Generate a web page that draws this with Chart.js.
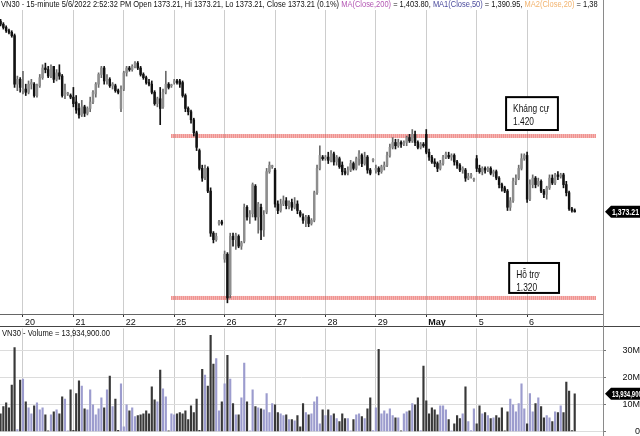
<!DOCTYPE html>
<html>
<head>
<meta charset="utf-8">
<title>VN30 15-minute</title>
<script src="https://cdn.jsdelivr.net/npm/chart.js@4.4.1/dist/chart.umd.min.js"></script>
<style>
  html, body { margin: 0; padding: 0; background: #fff; }
  #wrap { position: relative; width: 640px; height: 436px; overflow: hidden; }
  canvas { position: absolute; left: 0; }
  #price { top: 0; }
  #vol { top: 321px; }
  .line { position: absolute; }
</style>
</head>
<body>
<div id="wrap">
  <canvas id="price" width="640" height="326" style="width:640px;height:326px"></canvas>
  <canvas id="vol" width="640" height="118" style="width:640px;height:118px"></canvas>
  <div class="line" style="left:0;top:326px;width:640px;height:1px;background:#444"></div>
  <div class="line" style="left:603px;top:0;width:1px;height:436px;background:#8a8a8a"></div>
</div>
<script>
// session labels and the bar index where each session starts
const dayLabels = ["20", "21", "22", "25", "26", "27", "28", "29", "May", "5", "6"];
const dayStarts = [8, 26, 44, 62, 80, 98, 116, 134, 152, 170, 188];

// 15-minute bars, one row per session (first row = end of Apr 19)
const opens = [
  1491,1489,1487,1485,1484,1482,1452,1455,
  1448,1449,1447,1452,1452,1445,1451,1456,1462,1461,1457,1463,1455,1459,1457,1445,1446,1445,
  1444,1441,1437,1433,1438,1434,1437,1441,1446,1452,1458,1462,1454,1455,1451,1451,1448,1437,
  1449,1459,1462,1461,1463,1465,1462,1458,1456,1453,1452,1447,1440,1443,1438,1447,1452,1451,
  1453,1454,1454,1453,1445,1437,1435,1430,1422,1411,1400,1395,1400,1386,1360,1356,1366,1367,
  1344,1347,1322,1358,1356,1358,1352,1355,1376,1370,1372,1389,1370,1376,1362,1373,1398,1401,
  1399,1378,1374,1378,1380,1377,1379,1376,1378,1373,1370,1368,1370,1366,1368,1385,1400,1407,
  1406,1407,1405,1409,1404,1406,1402,1398,1397,1399,1403,1400,1406,1408,1403,1407,1399,1405,
  1399,1400,1398,1401,1402,1408,1413,1416,1414,1416,1415,1416,1419,1417,1421,1416,1413,1415,
  1421,1410,1407,1404,1403,1400,1403,1407,1408,1407,1408,1404,1402,1399,1399,1394,1395,1393,
  1406,1400,1398,1400,1399,1400,1397,1398,1394,1390,1388,1386,1376,1380,1392,1394,1400,1406,
  1408,1381,1390,1394,1390,1392,1386,1384,1388,1394,1391,1396,1395,1396,1390,1385,1375,1374
];
const highs = [
  1492,1490,1488,1486,1485,1483,1457,1456,
  1460,1452,1454,1455,1453,1452,1458,1464,1465,1463,1464,1463,1461,1464,1458,1452,1447,1446,
  1450,1445,1440,1442,1439,1438,1444,1448,1453,1459,1463,1463,1458,1456,1453,1452,1449,1451,
  1460,1463,1463,1464,1466,1466,1463,1459,1457,1455,1454,1448,1444,1450,1449,1460,1453,1452,
  1455,1455,1455,1454,1446,1438,1436,1431,1423,1412,1402,1402,1401,1388,1361,1360,1368,1368,
  1349,1348,1360,1360,1360,1359,1355,1378,1377,1374,1391,1390,1379,1378,1374,1400,1404,1402,
  1400,1380,1381,1383,1382,1380,1381,1382,1380,1374,1372,1371,1371,1369,1386,1402,1414,1408,
  1408,1410,1411,1410,1408,1407,1404,1400,1401,1405,1404,1407,1411,1409,1410,1408,1400,1406,
  1402,1401,1402,1404,1410,1415,1419,1418,1418,1417,1417,1420,1421,1424,1423,1417,1416,1416,
  1424,1412,1408,1406,1404,1405,1408,1410,1410,1409,1409,1405,1403,1401,1400,1397,1397,1394,
  1408,1402,1401,1401,1401,1401,1399,1399,1395,1391,1389,1387,1382,1394,1396,1402,1409,1409,
  1410,1393,1396,1395,1394,1393,1387,1389,1396,1396,1397,1398,1397,1397,1392,1386,1376,1375
];
const lows = [
  1488,1486,1484,1483,1481,1450,1448,1447,
  1446,1445,1446,1449,1444,1444,1450,1455,1459,1456,1456,1453,1454,1455,1444,1443,1445,1443,
  1438,1434,1431,1432,1432,1433,1435,1440,1444,1450,1456,1452,1452,1450,1449,1447,1446,1435,
  1448,1457,1460,1460,1462,1461,1457,1455,1452,1451,1446,1439,1438,1427,1437,1446,1449,1450,
  1452,1452,1450,1444,1435,1433,1428,1420,1411,1399,1392,1393,1385,1358,1354,1355,1365,1365,
  1342,1317,1320,1352,1350,1351,1350,1354,1368,1366,1370,1368,1360,1356,1358,1372,1397,1400,
  1376,1372,1373,1377,1375,1375,1374,1375,1372,1370,1366,1364,1364,1365,1367,1384,1399,1405,
  1405,1403,1404,1402,1402,1400,1396,1396,1396,1398,1399,1399,1402,1401,1402,1397,1396,1404,
  1397,1396,1397,1399,1401,1407,1412,1412,1413,1413,1414,1414,1416,1416,1414,1412,1412,1413,
  1409,1405,1403,1401,1398,1399,1402,1406,1406,1405,1402,1400,1398,1397,1392,1393,1394,1392,
  1398,1397,1396,1397,1398,1396,1395,1393,1388,1386,1385,1374,1374,1379,1390,1393,1399,1405,
  1379,1380,1388,1388,1389,1385,1382,1381,1387,1390,1390,1393,1394,1388,1383,1374,1373,1373
];
const closes = [
  1489,1487,1485,1484,1482,1452,1455,1450,
  1449,1447,1452,1453,1445,1451,1456,1462,1461,1457,1463,1455,1459,1457,1445,1448,1446,1444,
  1440,1436,1433,1438,1434,1437,1441,1447,1452,1458,1462,1454,1456,1451,1452,1448,1447,1449,
  1459,1462,1461,1463,1465,1462,1458,1456,1453,1452,1447,1440,1443,1437,1447,1452,1450,1451,
  1454,1453,1452,1445,1437,1435,1430,1422,1413,1400,1394,1400,1386,1360,1356,1358,1367,1366,
  1347,1320,1358,1356,1359,1352,1354,1376,1370,1372,1390,1370,1378,1362,1371,1398,1402,1401,
  1378,1374,1378,1380,1377,1379,1376,1378,1374,1371,1368,1370,1366,1368,1385,1400,1408,1406,
  1407,1405,1409,1404,1407,1401,1398,1397,1399,1403,1400,1406,1409,1403,1407,1399,1397,1405,
  1400,1398,1401,1402,1408,1413,1416,1414,1416,1415,1416,1419,1417,1421,1416,1413,1415,1414,
  1410,1407,1404,1403,1400,1403,1407,1409,1407,1408,1404,1402,1399,1400,1394,1395,1396,1393,
  1400,1398,1400,1399,1400,1397,1398,1394,1390,1388,1386,1376,1380,1392,1394,1400,1406,1408,
  1381,1390,1394,1390,1392,1386,1384,1388,1394,1391,1396,1395,1396,1390,1385,1375,1374,1373.21
];
// volume in millions of shares
const volumes = [
  6.6,9.2,10.6,8.8,17.2,31,0.7,19,
  19.4,11,8.8,6.6,9.5,10.6,8,8.8,6.2,0.3,6.2,7.3,8,6.6,12.8,12,0.3,15.4,
  0.5,14,18.7,16.8,8.4,8,15.4,9.9,6.2,8.4,12.5,8.8,15.4,20.5,9.2,12,0.5,17.6,
  1.8,9.9,7.7,8.8,5.5,5.9,6.2,6.6,7.7,6.6,16.5,11.7,11,22.7,15.8,12.8,0.3,6.6,
  6.2,6.6,7,6.6,7.7,4.4,9.5,7,12,0.5,23,20.9,16.8,35.5,24.9,27,7.7,11,
  17.6,28.2,19.4,10.3,6.2,6.2,12.5,25.3,11,0.3,15.4,9.2,8.8,8.4,8,14,7,10.3,
  9.9,7,6.6,5.9,6.2,4.4,4.4,4,5.9,1.8,10.3,7,6.2,6.6,11,12.8,2.9,8,
  5.9,8,5.9,6.6,4.8,3.7,6.6,4.8,4.8,0.3,4.4,6.2,6.6,5.5,4.8,8.4,12.5,0.4,
  8.8,30.4,6.6,7.7,6.6,8.4,5.9,5.1,5.1,0.3,6.6,7.3,7.7,10.3,9.9,12.5,0.4,24.2,
  11.4,6.6,8.8,8,6.2,9.5,9.5,8,4.4,0.3,2.9,5.9,4.8,6.6,16.5,3.7,0.4,8.4,
  2.9,9.5,6.6,7,5.9,4.8,5.1,5.9,5.1,8.8,0.3,7.3,12,9.9,7.3,10.3,17.6,8.4,
  2.9,14,7.3,10.3,12.5,9.2,5.1,5.9,5.1,3.7,7.3,7,9.5,7,18.3,15,0.4,13.9349
];

// resistance / support zones and their notes
const zoneLevels = [1420, 1320];
const zoneFrom = 61, zoneTo = 212.6;
const notes = [
  { lines: ["Kháng cự", "1.420"], i0: 180.5, i1: 199, top: 1444, bottom: 1423.7 },
  { lines: ["Hỗ trợ", "1.320"], i0: 181.6, i1: 199.4, top: 1341.6, bottom: 1323.1 }
];
const titleParts = [
  ["VN30 - 15-minute 5/6/2022 2:52:32 PM Open 1373.21, Hi 1373.21, Lo 1373.21, Close 1373.21", "#111"],
  [" (0.1%) ", "#111"],
  ["MA(Close,200)", "#b356b3"],
  [" = 1,403.80, ", "#111"],
  ["MA1(Close,50)", "#4a4a9c"],
  [" = 1,390.95, ", "#111"],
  ["MA2(Close,20)", "#f2b36e"],
  [" = 1,38", "#111"]
];

const FONT = '"Liberation Sans", Arial, sans-serif';
const X_MIN = -0.2, X_MAX = 215.1;
const bars = closes.map((c, i) => i);
const up = closes.map((c, i) => c >= opens[i]);

// draws text squeezed horizontally, returns the drawn width
function sText(ctx, str, x, y, sx) {
  ctx.save();
  ctx.translate(x, y);
  ctx.scale(sx, 1);
  ctx.fillText(str, 0, 0);
  ctx.restore();
  return ctx.measureText(str).width * sx;
}

function drawTag(ctx, y, text, w) {
  ctx.save();
  ctx.fillStyle = "#000";
  ctx.beginPath();
  ctx.moveTo(605, y);
  ctx.lineTo(611, y - 6);
  ctx.lineTo(640, y - 6);
  ctx.lineTo(640, y + 6);
  ctx.lineTo(611, y + 6);
  ctx.closePath();
  ctx.fill();
  ctx.fillStyle = "#fff";
  ctx.font = "bold 9px " + FONT;
  ctx.textBaseline = "middle";
  ctx.textAlign = "left";
  sText(ctx, text, 612, y + 0.5, w / ctx.measureText(text).width);
  ctx.restore();
}

function dayAxis(extra) {
  return Object.assign({
    type: "linear",
    min: X_MIN,
    max: X_MAX,
    offset: false,
    afterBuildTicks: s => { s.ticks = dayStarts.map(v => ({ value: v })); }
  }, extra);
}

const priceDecor = {
  id: "priceDecor",
  afterDraw(chart) {
    const ctx = chart.ctx;
    const xs = chart.scales.x, ys = chart.scales.y;

    // header line
    ctx.save();
    ctx.beginPath();
    ctx.rect(0, 0, 603, 12);
    ctx.clip();
    ctx.font = "9px " + FONT;
    ctx.textBaseline = "middle";
    const sx = 314 / ctx.measureText(titleParts[0][0]).width;
    let x = 1;
    titleParts.forEach(([str, col]) => {
      ctx.fillStyle = col;
      x += sText(ctx, str, x, 5, sx);
    });
    ctx.restore();

    // note boxes
    ctx.save();
    notes.forEach(n => {
      const l = xs.getPixelForValue(n.i0), r = xs.getPixelForValue(n.i1);
      const t = ys.getPixelForValue(n.top), b = ys.getPixelForValue(n.bottom);
      ctx.fillStyle = "#fff";
      ctx.fillRect(l, t, r - l, b - t);
      ctx.strokeStyle = "#000";
      ctx.lineWidth = 2;
      ctx.strokeRect(l, t, r - l, b - t);
      ctx.fillStyle = "#111";
      ctx.font = "11px " + FONT;
      ctx.textBaseline = "middle";
      n.lines.forEach((s, k) => sText(ctx, s, l + 7, t + 12 + k * 13, 0.76));
    });
    ctx.restore();

    const last = closes[closes.length - 1];
    drawTag(ctx, ys.getPixelForValue(last), last.toLocaleString("en-US", { minimumFractionDigits: 2 }), 27);
  }
};

const volDecor = {
  id: "volDecor",
  afterDraw(chart) {
    const ctx = chart.ctx;
    const top = chart.chartArea.top;
    const last = volumes[volumes.length - 1] * 1e6;
    const txt = last.toLocaleString("en-US", { minimumFractionDigits: 2, maximumFractionDigits: 2 });
    ctx.save();
    ctx.font = "9px " + FONT;
    ctx.fillStyle = "#111";
    ctx.textBaseline = "middle";
    const s = "VN30 - Volume = " + txt;
    sText(ctx, s, 2, top + 5, 108 / ctx.measureText(s).width);
    ctx.restore();
    drawTag(ctx, chart.scales.y.getPixelForValue(volumes[volumes.length - 1]), txt, 38);
  }
};

new Chart(document.getElementById("price"), {
  type: "bar",
  data: {
    datasets: [
      {
        data: bars.map(i => ({ x: i, y: [lows[i], highs[i]] })),
        backgroundColor: up.map(u => u ? "#6a6a6a" : "#111"),
        grouped: false, barPercentage: 1, categoryPercentage: 1, maxBarThickness: 1,
        order: 2
      },
      {
        data: bars.map(i => ({ x: i, y: [opens[i], closes[i]] })),
        backgroundColor: up.map(u => u ? "#8e8e8e" : "#111"),
        grouped: false, barPercentage: 1, categoryPercentage: 1, maxBarThickness: 1.8,
        minBarLength: 1,
        order: 1
      },
      ...zoneLevels.map(v => ({
        type: "line",
        data: [{ x: zoneFrom, y: v }, { x: zoneTo, y: v }],
        borderColor: "#e64a45",
        borderWidth: 4,
        borderDash: [1, 1],
        pointRadius: 0,
        order: 3
      }))
    ]
  },
  options: {
    responsive: false,
    animation: false,
    layout: { padding: { top: 10, left: 0, right: 0, bottom: 0 } },
    plugins: { legend: { display: false }, tooltip: { enabled: false } },
    scales: {
      x: dayAxis({
        afterFit: s => { s.height = 12; },
        grid: { color: "#cdcdcd", offset: false, tickLength: 3, tickColor: "#333" },
        border: { color: "#666" },
        ticks: {
          autoSkip: false, maxRotation: 0, align: "start", labelOffset: 2, padding: 0, color: "#111",
          font: c => ({ family: FONT, size: 9, weight: c.tick && c.tick.value === dayStarts[8] ? "bold" : "normal" }),
          callback: v => dayLabels[dayStarts.indexOf(v)]
        }
      }),
      y: {
        position: "right",
        min: 1310.1,
        max: 1497.8,
        afterFit: s => { s.width = 37; },
        grid: { display: false },
        border: { display: false },
        ticks: { display: false }
      }
    }
  },
  plugins: [priceDecor]
});

new Chart(document.getElementById("vol"), {
  type: "bar",
  data: {
    datasets: [{
      data: bars.map(i => ({ x: i, y: volumes[i] })),
      backgroundColor: up.map(u => u ? "#9c9cce" : "#383838"),
      grouped: false, barPercentage: 1, categoryPercentage: 1, maxBarThickness: 1.5
    }]
  },
  options: {
    responsive: false,
    animation: false,
    layout: { padding: { top: 6, bottom: 0, left: 0, right: 0 } },
    plugins: { legend: { display: false }, tooltip: { enabled: false } },
    scales: {
      x: dayAxis({
        afterFit: s => { s.height = 5; },
        grid: { color: "#cdcdcd", offset: false, drawTicks: false },
        border: { display: false },
        ticks: { display: false }
      }),
      y: {
        position: "right",
        min: 0,
        max: 38.1,
        afterFit: s => { s.width = 37; },
        border: { display: false },
        grid: { color: "#dcdcdc", tickLength: 3, tickColor: "#777" },
        ticks: {
          stepSize: 10, includeBounds: false, crossAlign: "far", padding: 2, color: "#111",
          font: { family: FONT, size: 9 },
          callback: v => v === 0 ? "0" : v + "M"
        }
      }
    }
  },
  plugins: [volDecor]
});
</script>
</body>
</html>
